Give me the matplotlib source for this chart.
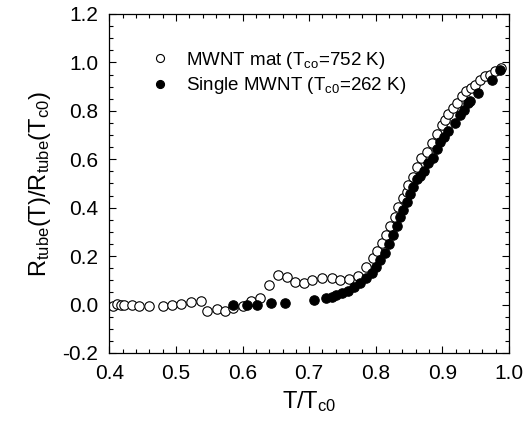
import matplotlib
matplotlib.use("Agg")
import matplotlib.pyplot as plt
from matplotlib.ticker import MultipleLocator

plt.rcParams['font.family'] = ['Liberation Sans', 'DejaVu Sans']
plt.rcParams['mathtext.default'] = 'regular'

# MWNT mat (open circles)
mat_x = [0.406, 0.412, 0.417, 0.422, 0.434, 0.445, 0.460, 0.480, 0.494, 0.508,
         0.523, 0.537, 0.547, 0.561, 0.573, 0.586, 0.600, 0.613, 0.626, 0.639,
         0.653, 0.666, 0.679, 0.692, 0.705, 0.720, 0.734, 0.746, 0.760, 0.774,
         0.785, 0.796, 0.802, 0.809, 0.815, 0.821, 0.829, 0.834, 0.841, 0.847,
         0.849, 0.856, 0.862, 0.868, 0.877, 0.884, 0.892, 0.899, 0.904, 0.909,
         0.916, 0.922, 0.929, 0.936, 0.943, 0.949, 0.957, 0.964, 0.972, 0.979,
         0.988]
mat_y = [-0.008, 0.003, -0.003, -0.001, -0.003, -0.008, -0.008, -0.005, -0.001, 0.004,
         0.011, 0.014, -0.027, -0.018, -0.025, -0.014, -0.005, 0.014, 0.028, 0.080,
         0.124, 0.115, 0.095, 0.088, 0.100, 0.108, 0.108, 0.102, 0.105, 0.118,
         0.157, 0.194, 0.221, 0.253, 0.287, 0.325, 0.363, 0.404, 0.439, 0.466,
         0.494, 0.528, 0.570, 0.604, 0.632, 0.666, 0.705, 0.743, 0.764, 0.787,
         0.812, 0.833, 0.860, 0.881, 0.895, 0.908, 0.929, 0.943, 0.950, 0.964,
         0.977]

# Single MWNT (filled circles)
single_x = [0.586, 0.606, 0.622, 0.642, 0.664, 0.707, 0.725, 0.734, 0.741, 0.750,
            0.759, 0.767, 0.776, 0.785, 0.794, 0.800, 0.806, 0.814, 0.820, 0.826,
            0.832, 0.836, 0.841, 0.847, 0.851, 0.856, 0.862, 0.867, 0.873, 0.879,
            0.886, 0.892, 0.897, 0.903, 0.909, 0.919, 0.927, 0.932, 0.938, 0.942,
            0.954, 0.974, 0.986]
single_y = [-0.002, -0.002, 0.000, 0.006, 0.008, 0.019, 0.026, 0.033, 0.040, 0.047,
            0.057, 0.071, 0.088, 0.109, 0.132, 0.157, 0.184, 0.212, 0.250, 0.287,
            0.325, 0.363, 0.391, 0.425, 0.457, 0.487, 0.518, 0.530, 0.553, 0.584,
            0.604, 0.641, 0.673, 0.690, 0.716, 0.750, 0.784, 0.805, 0.833, 0.842,
            0.874, 0.929, 0.970]

fig = plt.figure(figsize=(5.24, 4.33), dpi=100)
ax = fig.add_axes([0.2086, 0.1848, 0.7628, 0.7829])

ax.plot(mat_x, mat_y, 'o', mfc='white', mec='black', mew=0.8, ms=6.8,
        label=r'MWNT mat (T$_{co}$=752 K)', zorder=2)
ax.plot(single_x, single_y, 'o', mfc='black', mec='black', mew=0.8, ms=6.8,
        label=r'Single MWNT (T$_{c0}$=262 K)', zorder=3)

ax.set_xlim(0.4, 1.0)
ax.set_ylim(-0.2, 1.2)
ax.xaxis.set_major_locator(MultipleLocator(0.1))
ax.xaxis.set_minor_locator(MultipleLocator(0.02))
ax.yaxis.set_major_locator(MultipleLocator(0.2))
ax.yaxis.set_minor_locator(MultipleLocator(0.05))
ax.xaxis.set_major_formatter(matplotlib.ticker.FormatStrFormatter('%.1f'))
ax.yaxis.set_major_formatter(matplotlib.ticker.FormatStrFormatter('%.1f'))

ax.tick_params(which='both', direction='in', top=True, right=True, width=0.8,
               labelsize=15, pad=8)
ax.tick_params(which='major', length=5)
ax.tick_params(which='minor', length=3)
for s in ax.spines.values():
    s.set_linewidth(0.9)

ax.set_xlabel(r'T/T$_{c0}$', fontsize=17, labelpad=4)
ax.set_ylabel(r'R$_{tube}$(T)/R$_{tube}$(T$_{c0}$)', fontsize=17, labelpad=7)

leg = ax.legend(loc='upper left', bbox_to_anchor=(0.06, 0.945), frameon=False,
                fontsize=13.5, handletextpad=0.9, labelspacing=0.25,
                handlelength=1.0, markerscale=0.85)

fig.savefig('out.png', dpi=100)
